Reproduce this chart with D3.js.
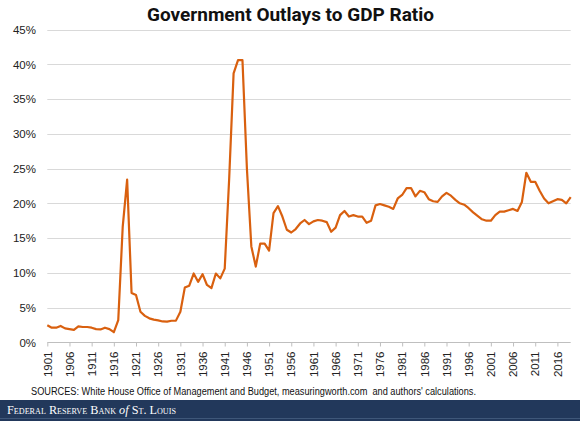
<!DOCTYPE html>
<html>
<head>
<meta charset="utf-8">
<script src="https://cdn.jsdelivr.net/npm/d3@7"></script>
<style>
  html, body { margin: 0; padding: 0; background: #fff; }
  svg { display: block; }
</style>
</head>
<body>
<script>
// ---- data ----
const years = [1901,1902,1903,1904,1905,1906,1907,1908,1909,1910,
  1911,1912,1913,1914,1915,1916,1917,1918,1919,1920,
  1921,1922,1923,1924,1925,1926,1927,1928,1929,1930,
  1931,1932,1933,1934,1935,1936,1937,1938,1939,1940,
  1941,1942,1943,1944,1945,1946,1947,1948,1949,1950,
  1951,1952,1953,1954,1955,1956,1957,1958,1959,1960,
  1961,1962,1963,1964,1965,1966,1967,1968,1969,1970,
  1971,1972,1973,1974,1975,1976,1977,1978,1979,1980,
  1981,1982,1983,1984,1985,1986,1987,1988,1989,1990,
  1991,1992,1993,1994,1995,1996,1997,1998,1999,2000,
  2001,2002,2003,2004,2005,2006,2007,2008,2009,2010,
  2011,2012,2013,2014,2015,2016,2017,2018,2019];
const outlaysPct = [2.45,2.1,2.1,2.35,2.0,1.9,1.8,2.3,2.2,2.2,
  2.1,1.9,1.85,2.1,1.9,1.45,3.2,16.6,23.4,7.1,
  6.8,4.4,3.8,3.45,3.26,3.16,3.0,2.97,3.1,3.12,
  4.4,7.87,8.15,9.9,8.7,9.8,8.25,7.8,9.9,9.2,
  10.6,23.5,38.7,40.6,40.6,25.0,13.8,10.9,14.2,14.2,
  13.2,18.6,19.6,18.1,16.2,15.8,16.3,17.1,17.6,17.0,
  17.4,17.6,17.5,17.3,15.9,16.5,18.3,18.9,18.1,18.3,
  18.1,18.1,17.2,17.5,19.7,19.9,19.7,19.5,19.2,20.7,
  21.2,22.2,22.2,21.0,21.8,21.6,20.6,20.3,20.2,21.0,
  21.5,21.1,20.5,20.0,19.8,19.3,18.7,18.2,17.7,17.5,
  17.5,18.3,18.8,18.8,19.0,19.2,18.9,20.2,24.4,23.1,
  23.1,21.8,20.7,20.0,20.3,20.6,20.5,20.0,20.9];
const xTickYears = [1901,1906,1911,1916,1921,1926,1931,1936,1941,1946,1951,1956,
  1961,1966,1971,1976,1981,1986,1991,1996,2001,2006,2011,2016];
const yTicks = [0,5,10,15,20,25,30,35,40,45];
const titleText = "Government Outlays to GDP Ratio";
const sourceText = "SOURCES: White House Office of Management and Budget, measuringworth.com  and authors' calculations.";

// ---- layout ----
const W = 580, H = 421;
const svg = d3.select("body").append("svg").attr("width", W).attr("height", H);

const x = d3.scaleLinear().domain([years[0], years[years.length - 1]]).range([47.3, 570.7]);
const y = d3.scaleLinear().domain([0, 45]).range([342.3, 29.6]);

// title
svg.append("text")
  .attr("x", 290.5).attr("y", 20.7)
  .attr("text-anchor", "middle")
  .attr("font-family", "Roboto, 'Open Sans', sans-serif")
  .attr("font-weight", "bold")
  .attr("font-size", 19)
  .attr("fill", "#111")
  .attr("textLength", 287).attr("lengthAdjust", "spacingAndGlyphs")
  .text(titleText);

// gridlines
svg.append("g").selectAll("line")
  .data(yTicks.filter(d => d > 0))
  .join("line")
  .attr("x1", x.range()[0]).attr("x2", x.range()[1])
  .attr("y1", d => Math.round(y(d)) + 0.5).attr("y2", d => Math.round(y(d)) + 0.5)
  .attr("stroke", "#d9d9d9").attr("stroke-width", 1);

// y labels
svg.append("g").selectAll("text")
  .data(yTicks)
  .join("text")
  .attr("x", 36).attr("y", d => y(d) + 4.2)
  .attr("text-anchor", "end")
  .attr("font-family", "'Liberation Sans', Arial, sans-serif")
  .attr("font-size", 11.5)
  .attr("fill", "#222")
  .text(d => d + "%");

// x axis
const xAxis = d3.axisBottom(x)
  .tickValues(xTickYears)
  .tickSize(4)
  .tickFormat("");
const gx = svg.append("g").attr("transform", `translate(0,${Math.round(y(0)) + 0.5})`).call(xAxis);
gx.select(".domain").attr("stroke", "#bfbfbf").attr("d", `M${x.range()[0]},0H${x.range()[1]}`);
gx.selectAll(".tick line").attr("stroke", "#bfbfbf");

svg.append("g").selectAll("text")
  .data(xTickYears)
  .join("text")
  .attr("transform", d => `translate(${x(d) + 4.2},351.5) rotate(-90)`)
  .attr("text-anchor", "end")
  .attr("font-family", "'Liberation Sans', Arial, sans-serif")
  .attr("font-size", 11.5)
  .attr("fill", "#222")
  .text(d => String(d));

// line
const line = d3.line()
  .x((d, i) => x(years[i]))
  .y(d => y(d));
svg.append("path")
  .datum(outlaysPct)
  .attr("d", line)
  .attr("fill", "none")
  .attr("stroke", "#d9600f")
  .attr("stroke-width", 2.2)
  .attr("stroke-linejoin", "round");

// sources
svg.append("text")
  .attr("x", 31).attr("y", 395)
  .attr("font-family", "'Liberation Sans', Arial, sans-serif")
  .attr("font-size", 10)
  .attr("fill", "#111")
  .attr("textLength", 445).attr("lengthAdjust", "spacingAndGlyphs")
  .style("white-space", "pre")
  .text(sourceText);

// footer band
svg.append("rect").attr("x", 0).attr("y", 400).attr("width", W).attr("height", 21).attr("fill", "#22385b");
svg.append("rect").attr("x", 0).attr("y", 418).attr("width", W).attr("height", 1).attr("fill", "#3f5779");
const ft = svg.append("text")
  .attr("x", 7).attr("y", 413.5)
  .attr("font-family", "'Liberation Serif', 'DejaVu Serif', serif")
  .attr("font-size", 12)
  .attr("fill", "#ffffff")
  .style("font-variant", "small-caps")
  .attr("textLength", 169).attr("lengthAdjust", "spacingAndGlyphs");
ft.append("tspan").text("Federal Reserve Bank ");
ft.append("tspan").attr("font-style", "italic").style("font-variant", "normal").text("of");
ft.append("tspan").text(" St. Louis");
</script>
</body>
</html>
